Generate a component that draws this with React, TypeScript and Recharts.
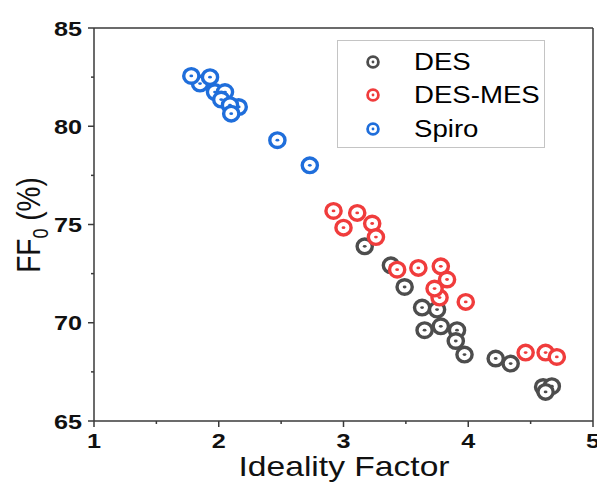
import React from "react";
import { ScatterChart, Scatter, XAxis, YAxis, ReferenceLine } from "recharts";

// Ideality factor vs FF0
const desX = [3.17, 3.38, 3.49, 3.63, 3.75, 3.65, 3.78, 3.91, 3.90, 3.97, 4.22, 4.34, 4.60, 4.67, 4.62];
const desY = [73.89, 72.92, 71.82, 70.77, 70.67, 69.62, 69.82, 69.62, 69.07, 68.38, 68.18, 67.92, 66.73, 66.77, 66.48];

const mesX = [2.92, 3.11, 3.00, 3.23, 3.26, 3.43, 3.60, 3.78, 3.83, 3.77, 3.73, 3.98, 4.46, 4.62, 4.71];
const mesY = [75.69, 75.59, 74.84, 75.05, 74.36, 72.70, 72.79, 72.87, 72.20, 71.28, 71.74, 71.06, 68.48, 68.48, 68.26];

const spiroX = [1.85, 1.78, 1.93, 1.97, 2.05, 2.02, 2.16, 2.09, 2.10, 2.47, 2.73];
const spiroY = [82.17, 82.56, 82.5, 81.74, 81.74, 81.36, 80.98, 81.07, 80.64, 79.29, 78.01];

const xTicks = [1, 1.5, 2, 2.5, 3, 3.5, 4, 4.5, 5];
const yTicks = [65, 67.5, 70, 72.5, 75, 77.5, 80, 82.5, 85];

const COLORS = { DES: "#4d4d4d", "DES-MES": "#f03c3c", Spiro: "#1f6edb" };
const AXIS = "#3a3a3a";
const FONT = "'Liberation Sans', Arial, sans-serif";
const STRETCH = 1.2; // the source figure is a little wider than tall

const toPoints = (xs: number[], ys: number[]) => xs.map((x, i) => ({ x, y: ys[i] }));
const desData = toPoints(desX, desY);
const mesData = toPoints(mesX, mesY);
const spiroData = toPoints(spiroX, spiroY);

const ringShape = (color: string) => (props: any) => {
  const { cx, cy } = props;
  return (
    <g>
      <ellipse cx={cx} cy={cy} rx={7.6} ry={7.3} fill="#fff" stroke={color} strokeWidth={3.4} />
      <ellipse cx={cx} cy={cy} rx={1.9} ry={1.4} fill={color} />
    </g>
  );
};

const XTick = ({ x, y, payload }: any) => {
  const major = Number.isInteger(payload.value);
  return (
    <g>
      <line x1={x} x2={x} y1={y} y2={y + (major ? 6 : 3)} stroke={AXIS} strokeWidth={1.5} />
      {major && (
        <text transform={`translate(${x},${y + 27}) scale(${STRETCH},1)`} textAnchor="middle" fontFamily={FONT} fontWeight="bold" fontSize={21} fill="#111">
          {payload.value}
        </text>
      )}
    </g>
  );
};

const YTick = ({ x, y, payload }: any) => {
  const major = payload.value % 5 === 0;
  return (
    <g>
      <line x1={x - (major ? 6 : 3)} x2={x} y1={y} y2={y} stroke={AXIS} strokeWidth={1.5} />
      {major && (
        <text transform={`translate(${x - 12},${y + 7.5}) scale(${STRETCH},1)`} textAnchor="end" fontFamily={FONT} fontWeight="bold" fontSize={21} fill="#111">
          {payload.value}
        </text>
      )}
    </g>
  );
};

const LegendBox = () => (
  <div
    style={{
      position: "absolute", left: 337, top: 40, width: 206, height: 106,
      border: "1px solid #c4c4c4", background: "#fff", fontFamily: FONT, fontSize: 23, color: "#000",
    }}
  >
    {(["DES", "DES-MES", "Spiro"] as const).map((name, i) => (
      <div key={name} style={{ position: "absolute", left: 0, top: [21, 54, 88][i] - 14, height: 28, display: "flex", alignItems: "center" }}>
        <svg width={70} height={28} style={{ display: "block" }}>
          <circle cx={35} cy={14} r={5.4} fill="#fff" stroke={COLORS[name]} strokeWidth={2.8} />
          <circle cx={35} cy={14} r={1.4} fill={COLORS[name]} />
        </svg>
        <span style={{ marginLeft: 6, lineHeight: "28px", display: "inline-block", transform: `scaleX(${STRETCH})`, transformOrigin: "left center" }}>{name}</span>
      </div>
    ))}
  </div>
);

export default function App() {
  return (
    <div style={{ position: "absolute", left: 0, top: 0, width: 597, height: 488, background: "#fff" }}>
      <ScatterChart width={597} height={488} margin={{ top: 28, right: 4, bottom: 0, left: 0 }}>
        <XAxis
          type="number" dataKey="x" domain={[1, 5]} ticks={xTicks} interval={0}
          height={67} tickSize={0} tickMargin={0} tickLine={false}
          axisLine={{ stroke: AXIS, strokeWidth: 1.5 }} tick={<XTick />} allowDataOverflow
        />
        <YAxis
          type="number" dataKey="y" domain={[65, 85]} ticks={yTicks} interval={0}
          width={94} tickSize={0} tickMargin={0} tickLine={false}
          axisLine={{ stroke: AXIS, strokeWidth: 1.5 }} tick={<YTick />} allowDataOverflow
        />
        <ReferenceLine y={85} stroke={AXIS} strokeWidth={1.5} />
        <ReferenceLine x={5} stroke={AXIS} strokeWidth={1.5} />
        <Scatter name="DES" data={desData} shape={ringShape(COLORS.DES)} isAnimationActive={false} />
        <Scatter name="DES-MES" data={mesData} shape={ringShape(COLORS["DES-MES"])} isAnimationActive={false} />
        <Scatter name="Spiro" data={spiroData} shape={ringShape(COLORS.Spiro)} isAnimationActive={false} />
      </ScatterChart>

      <LegendBox />

      <div style={{ position: "absolute", left: 344, top: 467, transform: `translate(-50%,-50%) scaleX(${STRETCH})`, fontFamily: FONT, fontSize: 28, lineHeight: "26px", whiteSpace: "nowrap", color: "#111" }}>
        Ideality Factor
      </div>
      <div style={{ position: "absolute", left: 29, top: 225, transform: `translate(-50%,-50%) rotate(-90deg) scaleY(${STRETCH})`, fontFamily: FONT, fontSize: 28, lineHeight: "28px", whiteSpace: "nowrap", color: "#111" }}>
        FF<sub style={{ fontSize: 18, lineHeight: 0 }}>0</sub> (%)
      </div>
    </div>
  );
}
